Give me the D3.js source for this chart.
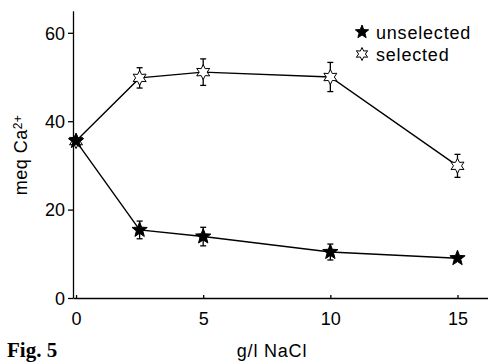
<!DOCTYPE html>
<html>
<head>
<meta charset="utf-8">
<script src="https://cdn.jsdelivr.net/npm/d3@7"></script>
<style>
  body { margin: 0; background: #fff; }
  text { font-family: "Liberation Sans", Arial, sans-serif; fill: #000; }
</style>
</head>
<body>
<div id="plot"></div>
<script>
// Data
const nacl = [0, 2.5, 5, 10, 15];
const selectedMean = [35.5, 49.8, 51.1, 50.0, 29.9];
const selectedErr = [0, 2.3, 3.0, 3.3, 2.6];
const unselectedMean = [35.5, 15.4, 13.9, 10.4, 9.0];
const unselectedErr = [0, 2.0, 2.1, 1.8, 0];
const xTicks = [0, 5, 10, 15];
const yTicks = [0, 20, 40, 60];

const W = 488, H = 363;

const svg = d3.select("#plot")
    .append("svg")
    .attr("width", W)
    .attr("height", H);

// Scales
const x = d3.scaleLinear().domain([-0.12, 16.2]).range([73, 488]);
const y = d3.scaleLinear().domain([0, 65]).range([298, 10.7]);

// Y axis
const yAxis = svg.append("g")
    .attr("transform", `translate(${x(-0.12)},0)`)
    .call(d3.axisLeft(y).tickValues(yTicks).tickSize(5).tickPadding(3).tickSizeOuter(0));
yAxis.selectAll("text").style("font-size", "18px").attr("dy", "0.35em");

// X axis (ticks point inwards)
const xAxis = svg.append("g")
    .attr("transform", `translate(0,${y(0)})`)
    .call(d3.axisBottom(x).tickValues(xTicks).tickSize(-3).tickPadding(14).tickSizeOuter(0));
xAxis.selectAll("text").style("font-size", "18px").attr("dy", "0.71em");
svg.selectAll(".domain, .tick line").attr("stroke", "#000").attr("stroke-width", 1.3);
svg.selectAll(".tick text").attr("fill", "#000").style("font-family", "Liberation Sans, Arial, sans-serif");

// Axis labels
svg.append("text")
    .attr("x", 272)
    .attr("y", 357)
    .attr("text-anchor", "middle")
    .style("font-size", "18px")
    .style("letter-spacing", "0.8px")
    .text("g/l NaCl");

const yLabel = svg.append("text")
    .attr("transform", "translate(27,155) rotate(-90)")
    .attr("text-anchor", "middle")
    .style("font-size", "18px")
    .style("letter-spacing", "0.5px");
yLabel.append("tspan").text("meq Ca");
yLabel.append("tspan").attr("dy", "-0.45em").style("font-size", "12px").text("2+");

svg.append("text")
    .attr("x", 7)
    .attr("y", 357)
    .style("font-family", "Liberation Serif, Times New Roman, serif")
    .style("font-weight", "bold")
    .style("font-size", "21px")
    .text("Fig. 5");

// Star path generator
function star(points, outer, inner) {
    const pts = [];
    for (let i = 0; i < points * 2; i++) {
        const r = i % 2 === 0 ? outer : inner;
        const a = -Math.PI / 2 + i * Math.PI / points;
        pts.push([r * Math.cos(a), r * Math.sin(a)]);
    }
    return "M" + pts.map(p => p.join(",")).join("L") + "Z";
}

const line = d3.line()
    .x(d => x(d.x))
    .y(d => y(d.y));

function drawSeries(means, errs, filled) {
    const data = nacl.map((v, i) => ({x: v, y: means[i], e: errs[i]}));
    svg.append("path")
        .datum(data)
        .attr("fill", "none")
        .attr("stroke", "#000")
        .attr("stroke-width", 1.4)
        .attr("d", line);

    const bars = svg.append("g").selectAll("g")
        .data(data.filter(d => d.e > 0))
        .join("g")
        .attr("stroke", "#000")
        .attr("stroke-width", 1.3);
    bars.append("line")
        .attr("x1", d => x(d.x)).attr("x2", d => x(d.x))
        .attr("y1", d => y(d.y - d.e)).attr("y2", d => y(d.y + d.e));
    bars.append("line")
        .attr("x1", d => x(d.x) - 3).attr("x2", d => x(d.x) + 3)
        .attr("y1", d => y(d.y + d.e)).attr("y2", d => y(d.y + d.e));
    bars.append("line")
        .attr("x1", d => x(d.x) - 3).attr("x2", d => x(d.x) + 3)
        .attr("y1", d => y(d.y - d.e)).attr("y2", d => y(d.y - d.e));

    svg.append("g").selectAll("path")
        .data(data)
        .join("path")
        .attr("transform", d => `translate(${x(d.x)},${y(d.y)})`)
        .attr("d", filled ? star(5, 8, 3.4) : star(6, 7.5, 4))
        .attr("fill", filled ? "#000" : "#fff")
        .attr("stroke", "#000")
        .attr("stroke-width", 1);
}

drawSeries(selectedMean, selectedErr, false);
drawSeries(unselectedMean, unselectedErr, true);

// Legend
const legend = [
    {label: "unselected", filled: true, yy: 32},
    {label: "selected", filled: false, yy: 54}
];
legend.forEach(l => {
    svg.append("path")
        .attr("transform", `translate(362,${l.yy})`)
        .attr("d", l.filled ? star(5, 7, 3) : star(6, 6.5, 3.4))
        .attr("fill", l.filled ? "#000" : "#fff")
        .attr("stroke", "#000")
        .attr("stroke-width", 1);
    svg.append("text")
        .attr("x", 376)
        .attr("y", l.yy + 6.5)
        .style("font-size", "18px")
        .style("letter-spacing", "0.8px")
        .text(l.label);
});
</script>
</body>
</html>
